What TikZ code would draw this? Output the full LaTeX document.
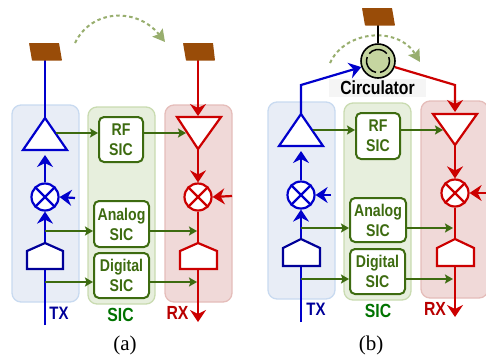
\documentclass[tikz,border=0pt]{standalone}
\usepackage{fontspec}
\setmainfont{Liberation Serif}
\newfontfamily\labelfont[FakeStretch=0.83]{Liberation Sans}
\usetikzlibrary{arrows.meta,calc}
\definecolor{txblue}{HTML}{0000CC}
\definecolor{dacblue}{HTML}{000099}
\definecolor{rxred}{HTML}{CC0000}
\definecolor{sicgreen}{HTML}{3D6B10}
\definecolor{arcgreen}{HTML}{98AE6E}
\definecolor{brownant}{HTML}{994C08}
\definecolor{txfill}{HTML}{E8EDF6}
\definecolor{txedge}{HTML}{C8DAF0}
\definecolor{sicfill}{HTML}{E7EFDD}
\definecolor{sicedge}{HTML}{C9DBB0}
\definecolor{rxfill}{HTML}{F0D9D8}
\definecolor{rxedge}{HTML}{E5BDBA}
\definecolor{circfill}{HTML}{C5D5A0}
\tikzset{
  panel/.style={draw,rounded corners=9pt,line width=1.3pt,minimum width=67pt,minimum height=197pt,inner sep=0pt},
  txpanel/.style={panel,draw=txedge,fill=txfill},
  sicpanel/.style={panel,draw=sicedge,fill=sicfill},
  rxpanel/.style={panel,draw=rxedge,fill=rxfill},
  sicbox/.style={draw=sicgreen,fill=white,line width=2pt,rounded corners=5pt,text=sicgreen,align=center,inner sep=0pt,font=\labelfont\bfseries\fontsize{17}{20}\selectfont},
  mixer/.style={draw,fill=white,circle,line width=2.2pt,minimum size=27pt,inner sep=0pt},
  txline/.style={draw=txblue,line width=2.2pt},
  rxline/.style={draw=rxred,line width=2.2pt},
  txarrow/.style={txline,-{Stealth[length=12pt,width=16pt,inset=4pt]}},
  rxarrow/.style={rxline,-{Stealth[length=12pt,width=16pt,inset=4pt]}},
  sicarrow/.style={draw=sicgreen,line width=2pt,-{Stealth[length=8pt,width=9pt,inset=1.5pt]}},
  sparkarc/.style={draw=arcgreen,line width=2pt,dash pattern=on 3.5pt off 3pt,-{Stealth[length=12pt,width=13pt,inset=2pt]}},
  sidelabel/.style={inner sep=0pt,font=\labelfont\bfseries\fontsize{18}{18}\selectfont},
  biglabel/.style={inner sep=0pt,font=\labelfont\bfseries\fontsize{19}{19}\selectfont},
  caption/.style={inner sep=0pt,font=\fontsize{21}{21}\selectfont}
}
\begin{document}
\begin{tikzpicture}[x=1pt,y=-1pt]
\useasboundingbox (0,0) rectangle (486,360);
% Panels (a)
\node[txpanel] (txpa) at (45.5,203.5) {};
\node[sicpanel] (sicpa) at (121.5,205.5) {};
\node[rxpanel] (rxpa) at (198.5,203.5) {};
% Panels (b)
\node[txpanel] (txpb) at (301.5,200.5) {};
\node[sicpanel] (sicpb) at (377.5,201.5) {};
\node[rxpanel] (rxpb) at (454.5,199.5) {};
% Leakage arcs
\coordinate (arcaL) at (75,43);
\coordinate (arcaR) at (165,42);
\draw[sparkarc] (arcaL) .. controls (92,8) and (138,8) .. (arcaR);
\coordinate (arcbL) at (330,63);
\coordinate (arcbR) at (420,62);
\draw[sparkarc] (arcbL) .. controls (345,30) and (398,26) .. (arcbR);
% Points of (a)
\coordinate (antTa) at (45,60);
\coordinate (ampTa) at (45,118);
\coordinate (ampTaR) at (56,133);
\coordinate (ampTaB) at (45,155);
\coordinate (dacTa) at (45,243);
\coordinate (tapAa) at (45,231);
\coordinate (tapDa) at (45,282);
\coordinate (txina) at (45,325);
\coordinate (loTa) at (75,198);
\coordinate (antRa) at (198,60);
\coordinate (ampRa) at (198,116);
\coordinate (ampRaB) at (198,149);
\coordinate (ampRaL) at (186,133);
\coordinate (dacRa) at (198,243);
\coordinate (dacRaB) at (198,269);
\coordinate (tapAra) at (197,231);
\coordinate (tapDra) at (197,282);
\coordinate (rxouta) at (198,322);
\coordinate (loRa) at (232,196);
% Line 1: TX chain (a)
\draw[txline] (antTa) -- (ampTa);
\draw[txline] (txina) -- (dacTa);
% Line 2: RX chain (a)
\draw[rxarrow] (antRa) -- (ampRa);
\draw[rxarrow] (dacRaB) -- (rxouta);
% Line 3: SIC boxes (a)
\node[sicbox,minimum width=44pt,minimum height=45pt] (rfa) at (121,139.5) {RF\\SIC};
\node[sicbox,minimum width=55pt,minimum height=46pt] (anaa) at (121.5,224) {Analog\\SIC};
\node[sicbox,minimum width=55pt,minimum height=45pt] (diga) at (121.5,275.5) {Digital\\SIC};
% Line 4: mixers (a)
\node[mixer,draw=txblue] (mixTa) at (45,197) {};
\draw[txline] (mixTa.45) -- (mixTa.225);
\draw[txline] (mixTa.135) -- (mixTa.315);
\node[mixer,draw=rxred] (mixRa) at (198,197) {};
\draw[rxline] (mixRa.45) -- (mixRa.225);
\draw[rxline] (mixRa.135) -- (mixRa.315);
\draw[txarrow] (mixTa.north) -- (ampTaB);
\draw[txarrow] (dacTa) -- (mixTa.south);
\draw[txarrow] (loTa) -- (mixTa.east);
\draw[rxarrow] (ampRaB) -- (mixRa.north);
\draw[rxline] (mixRa.south) -- (dacRa);
\draw[rxarrow] (loRa) -- (mixRa.east);
% Line 5: amplifiers and converters (a)
\draw[txline,fill=white] (ampTa) -- (67,150) -- (23,150) -- cycle;
\draw[rxline,fill=white] (177,117) -- (221,117) -- (ampRaB) -- cycle;
\draw[txline,draw=dacblue,fill=white] (dacTa) -- (63,251) -- (63,269) -- (27,269) -- (27,251) -- cycle;
\draw[rxline,fill=white] (dacRa) -- (217,251) -- (217,269) -- (180,269) -- (180,251) -- cycle;
% Line 6: antennas (a)
\fill[brownant,rounded corners=.5pt] (29,43) -- (59,43) -- (62,60.5) -- (32,60.5) -- cycle;
\fill[brownant,rounded corners=.5pt] (183,43) -- (213,43) -- (215,60.5) -- (186,60.5) -- cycle;
% Line 7: SIC paths (a)
\draw[sicarrow] (ampTaR) -- (ampTaR -| rfa.west);
\draw[sicarrow] (ampTaR -| rfa.east) -- (ampRaL);
\draw[sicarrow] (tapAa) -- (tapAa -| anaa.west);
\draw[sicarrow] (tapAa -| anaa.east) -- (tapAra);
\draw[sicarrow] (tapDa) -- (tapDa -| diga.west);
\draw[sicarrow] (tapDa -| diga.east) -- (tapDra);
% Line 8: labels (a)
\node[sidelabel,text=dacblue] (txla) at (59,313) {TX};
\node[biglabel,text=green!45!black] (sicla) at (120.5,315) {SIC};
\node[biglabel,text=rxred!90!black] (rxla) at (177.5,313) {RX};
\node[caption] (capa) at (125,345) {(a)};
% Points of (b)
\coordinate (antTb) at (378,25);
\coordinate (ampTb) at (301,114);
\coordinate (ampTbR) at (313,130);
\coordinate (ampTbB) at (301,151);
\coordinate (bendTb) at (301,85);
\coordinate (bendRb) at (455,85);
\coordinate (dacTb) at (301,239);
\coordinate (tapAb) at (301,228);
\coordinate (tapDb) at (301,279);
\coordinate (txinb) at (301,322);
\coordinate (loTb) at (331,195);
\coordinate (ampRb) at (455,112);
\coordinate (ampRbB) at (455,145);
\coordinate (ampRbL) at (443,130);
\coordinate (dacRb) at (455,239);
\coordinate (dacRbB) at (455,266);
\coordinate (tapArb) at (453,228);
\coordinate (tapDrb) at (453,279);
\coordinate (rxoutb) at (455,317);
\coordinate (loRb) at (486,193);
% Line 9: circulator (b)
\node[draw,fill=circfill,circle,line width=1.6pt,minimum size=34pt,inner sep=0pt] (circ) at (378,61) {};
\draw[black,line width=1.5pt] (378,61) ++(200:11.5) arc[start angle=200,end angle=100,radius=11.5];
\draw[black,line width=1.5pt] (378,61) ++(80:11.5) arc[start angle=80,end angle=-20,radius=11.5];
\draw[black,line width=1.5pt] (378,61) ++(-40:11.5) arc[start angle=-40,end angle=-140,radius=11.5];
\draw[line width=2.2pt] (antTb) -- (circ.north);
\fill[brownant,rounded corners=.5pt] (362,8) -- (392,8) -- (395,25.5) -- (365,25.5) -- cycle;
\node[fill=gray!8,minimum width=97pt,minimum height=18pt,inner sep=0pt,font=\labelfont\bfseries\fontsize{19}{19}\selectfont] (circl) at (377.5,88) {Circulator};
% Line 10: TX chain (b)
\draw[txarrow] (ampTb) -- (bendTb) -- (circ.200);
\draw[txline] (txinb) -- (dacTb);
% Line 11: RX chain (b)
\draw[rxarrow] (circ.-20) -- (bendRb) -- (ampRb);
\draw[rxarrow] (dacRbB) -- (rxoutb);
% Line 12: SIC boxes (b)
\node[sicbox,minimum width=44pt,minimum height=46pt] (rfb) at (378,136) {RF\\SIC};
\node[sicbox,minimum width=56pt,minimum height=44pt] (anab) at (378,220) {Analog\\SIC};
\node[sicbox,minimum width=55pt,minimum height=45pt] (digb) at (377.5,271.5) {Digital\\SIC};
% Line 13: mixers (b)
\node[mixer,draw=txblue] (mixTb) at (301,195) {};
\draw[txline] (mixTb.45) -- (mixTb.225);
\draw[txline] (mixTb.135) -- (mixTb.315);
\node[mixer,draw=rxred] (mixRb) at (455,193) {};
\draw[rxline] (mixRb.45) -- (mixRb.225);
\draw[rxline] (mixRb.135) -- (mixRb.315);
\draw[txarrow] (mixTb.north) -- (ampTbB);
\draw[txarrow] (dacTb) -- (mixTb.south);
\draw[txarrow] (loTb) -- (mixTb.east);
\draw[rxarrow] (ampRbB) -- (mixRb.north);
\draw[rxline] (mixRb.south) -- (dacRb);
\draw[rxarrow] (loRb) -- (mixRb.east);
% Line 14: amplifiers and converters (b)
\draw[txline,fill=white] (ampTb) -- (323,146) -- (279,146) -- cycle;
\draw[rxline,fill=white] (433,114) -- (477,114) -- (ampRbB) -- cycle;
\draw[txline,draw=dacblue,fill=white] (dacTb) -- (320,248) -- (320,266) -- (283,266) -- (283,248) -- cycle;
\draw[rxline,fill=white] (dacRb) -- (474,248) -- (474,266) -- (437,266) -- (437,248) -- cycle;
% Line 15: SIC paths (b)
\draw[sicarrow] (ampTbR) -- (ampTbR -| rfb.west);
\draw[sicarrow] (ampTbR -| rfb.east) -- (ampRbL);
\draw[sicarrow] (tapAb) -- (tapAb -| anab.west);
\draw[sicarrow] (tapAb -| anab.east) -- (tapArb);
\draw[sicarrow] (tapDb) -- (tapDb -| digb.west);
\draw[sicarrow] (tapDb -| digb.east) -- (tapDrb);
% Line 16: labels (b)
\node[sidelabel,text=dacblue] (txlb) at (316,309) {TX};
\node[biglabel,text=green!45!black] (siclb) at (378,311) {SIC};
\node[biglabel,text=rxred!90!black] (rxlb) at (435,309) {RX};
\node[caption] (capb) at (371,345) {(b)};
\end{tikzpicture}
\end{document}
